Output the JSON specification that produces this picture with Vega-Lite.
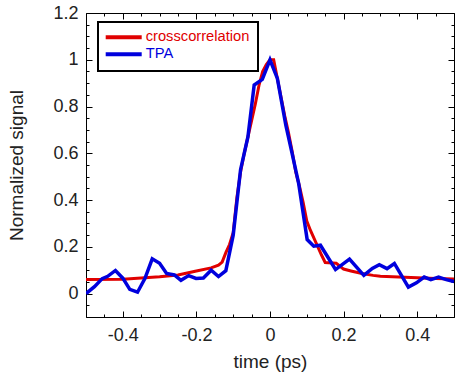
{
  "$schema": "https://vega.github.io/schema/vega-lite/v6.json",
  "autosize": "none",
  "width": 368,
  "height": 304,
  "padding": {"left": 86, "top": 13, "right": 1, "bottom": 58},
  "config": {
    "view": {"stroke": "black", "strokeWidth": 1},
    "axis": {
      "grid": false,
      "domain": false,
      "tickColor": "black",
      "tickWidth": 1,
      "labelFont": "Liberation Sans",
      "labelFontSize": 18,
      "labelColor": "#222222",
      "titleFont": "Liberation Sans",
      "titleFontSize": 19,
      "titleFontWeight": "normal",
      "titleColor": "#222222"
    },
    "legend": {
      "labelFont": "Liberation Sans"
    }
  },
  "resolve": {"axis": {"x": "independent", "y": "independent"}},
  "layer": [
    {
      "data": {"values": [
        {"t": -0.5, "s": 0.060, "series": "crosscorrelation"},
        {"t": -0.4, "s": 0.061, "series": "crosscorrelation"},
        {"t": -0.3, "s": 0.072, "series": "crosscorrelation"},
        {"t": -0.25, "s": 0.080, "series": "crosscorrelation"},
        {"t": -0.2, "s": 0.097, "series": "crosscorrelation"},
        {"t": -0.16, "s": 0.110, "series": "crosscorrelation"},
        {"t": -0.14, "s": 0.122, "series": "crosscorrelation"},
        {"t": -0.13, "s": 0.135, "series": "crosscorrelation"},
        {"t": -0.12, "s": 0.175, "series": "crosscorrelation"},
        {"t": -0.11, "s": 0.21, "series": "crosscorrelation"},
        {"t": -0.10, "s": 0.26, "series": "crosscorrelation"},
        {"t": -0.09, "s": 0.41, "series": "crosscorrelation"},
        {"t": -0.08, "s": 0.52, "series": "crosscorrelation"},
        {"t": -0.07, "s": 0.60, "series": "crosscorrelation"},
        {"t": -0.06, "s": 0.67, "series": "crosscorrelation"},
        {"t": -0.05, "s": 0.74, "series": "crosscorrelation"},
        {"t": -0.04, "s": 0.81, "series": "crosscorrelation"},
        {"t": -0.03, "s": 0.89, "series": "crosscorrelation"},
        {"t": -0.02, "s": 0.95, "series": "crosscorrelation"},
        {"t": -0.01, "s": 0.98, "series": "crosscorrelation"},
        {"t": 0.0, "s": 1.0, "series": "crosscorrelation"},
        {"t": 0.01, "s": 1.0, "series": "crosscorrelation"},
        {"t": 0.02, "s": 0.92, "series": "crosscorrelation"},
        {"t": 0.03, "s": 0.84, "series": "crosscorrelation"},
        {"t": 0.04, "s": 0.76, "series": "crosscorrelation"},
        {"t": 0.05, "s": 0.69, "series": "crosscorrelation"},
        {"t": 0.06, "s": 0.61, "series": "crosscorrelation"},
        {"t": 0.07, "s": 0.52, "series": "crosscorrelation"},
        {"t": 0.08, "s": 0.46, "series": "crosscorrelation"},
        {"t": 0.09, "s": 0.39, "series": "crosscorrelation"},
        {"t": 0.10, "s": 0.31, "series": "crosscorrelation"},
        {"t": 0.11, "s": 0.27, "series": "crosscorrelation"},
        {"t": 0.12, "s": 0.235, "series": "crosscorrelation"},
        {"t": 0.13, "s": 0.20, "series": "crosscorrelation"},
        {"t": 0.14, "s": 0.165, "series": "crosscorrelation"},
        {"t": 0.15, "s": 0.133, "series": "crosscorrelation"},
        {"t": 0.18, "s": 0.13, "series": "crosscorrelation"},
        {"t": 0.2, "s": 0.105, "series": "crosscorrelation"},
        {"t": 0.22, "s": 0.097, "series": "crosscorrelation"},
        {"t": 0.25, "s": 0.086, "series": "crosscorrelation"},
        {"t": 0.28, "s": 0.078, "series": "crosscorrelation"},
        {"t": 0.3, "s": 0.074, "series": "crosscorrelation"},
        {"t": 0.35, "s": 0.071, "series": "crosscorrelation"},
        {"t": 0.4, "s": 0.068, "series": "crosscorrelation"},
        {"t": 0.45, "s": 0.065, "series": "crosscorrelation"},
        {"t": 0.5, "s": 0.062, "series": "crosscorrelation"}
      ]},
      "mark": {"type": "line", "strokeWidth": 3, "clip": true},
      "encoding": {
        "x": {
          "field": "t", "type": "quantitative",
          "scale": {"domain": [-0.5, 0.5], "nice": false, "zero": false},
          "axis": {
            "orient": "bottom",
            "title": "time (ps)",
            "values": [-0.5,-0.45,-0.4,-0.35,-0.3,-0.25,-0.2,-0.15,-0.1,-0.05,0,0.05,0.1,0.15,0.2,0.25,0.3,0.35,0.4,0.45,0.5],
            "tickSize": {"condition": {"test": "abs(round(datum.value*20) % 4) == 0", "value": -6}, "value": -3},
            "labelExpr": "abs(round(datum.value*20) % 4) == 0 ? ((datum.value < 0 ? '-' : '') + format(abs(datum.value), '~g')) : ''",
            "labelPadding": 15,
            "titlePadding": 8
          }
        },
        "y": {
          "field": "s", "type": "quantitative",
          "scale": {"domain": [-0.1, 1.2], "nice": false, "zero": false},
          "axis": {
            "orient": "left",
            "title": "Normalized signal",
            "values": [-0.1,-0.05,0,0.05,0.1,0.15,0.2,0.25,0.3,0.35,0.4,0.45,0.5,0.55,0.6,0.65,0.7,0.75,0.8,0.85,0.9,0.95,1,1.05,1.1,1.15,1.2],
            "tickSize": {"condition": {"test": "abs(round(datum.value*20) % 4) == 0", "value": -6}, "value": -3},
            "labelExpr": "abs(round(datum.value*20) % 4) == 0 ? ((datum.value < 0 ? '-' : '') + format(abs(datum.value), '~g')) : ''",
            "labelPadding": 14,
            "titlePadding": 26
          }
        },
        "color": {
          "field": "series", "type": "nominal",
          "scale": {"domain": ["crosscorrelation", "TPA"], "range": ["#e00000", "#0000dd"]},
          "legend": {
            "orient": "none",
            "legendX": 12,
            "legendY": 9,
            "title": null,
            "fillColor": "white",
            "strokeColor": "black",
            "padding": 8,
            "symbolType": "M-1.7,0H6.3",
            "symbolSize": 81,
            "symbolStrokeWidth": 4,
            "labelFontSize": 14.7,
            "labelOffset": 25,
            "rowPadding": 0,
            "encode": {
              "labels": {"update": {"fill": {"signal": "datum.label == 'TPA' ? '#0000dd' : '#e00000'"}}},
              "legend": {"update": {"strokeWidth": {"value": 2}}}
            }
          }
        }
      }
    },
    {
      "data": {"values": [
        {"t": -0.5, "s": 0.0, "series": "TPA"},
        {"t": -0.477, "s": 0.03, "series": "TPA"},
        {"t": -0.456, "s": 0.064, "series": "TPA"},
        {"t": -0.441, "s": 0.074, "series": "TPA"},
        {"t": -0.42, "s": 0.099, "series": "TPA"},
        {"t": -0.4, "s": 0.066, "series": "TPA"},
        {"t": -0.381, "s": 0.018, "series": "TPA"},
        {"t": -0.36, "s": 0.006, "series": "TPA"},
        {"t": -0.34, "s": 0.064, "series": "TPA"},
        {"t": -0.32, "s": 0.149, "series": "TPA"},
        {"t": -0.30, "s": 0.13, "series": "TPA"},
        {"t": -0.281, "s": 0.086, "series": "TPA"},
        {"t": -0.26, "s": 0.08, "series": "TPA"},
        {"t": -0.242, "s": 0.057, "series": "TPA"},
        {"t": -0.221, "s": 0.077, "series": "TPA"},
        {"t": -0.201, "s": 0.065, "series": "TPA"},
        {"t": -0.181, "s": 0.067, "series": "TPA"},
        {"t": -0.16, "s": 0.10, "series": "TPA"},
        {"t": -0.14, "s": 0.073, "series": "TPA"},
        {"t": -0.12, "s": 0.098, "series": "TPA"},
        {"t": -0.10, "s": 0.25, "series": "TPA"},
        {"t": -0.08, "s": 0.53, "series": "TPA"},
        {"t": -0.06, "s": 0.67, "series": "TPA"},
        {"t": -0.043, "s": 0.892, "series": "TPA"},
        {"t": -0.021, "s": 0.916, "series": "TPA"},
        {"t": 0.0, "s": 1.0, "series": "TPA"},
        {"t": 0.02, "s": 0.92, "series": "TPA"},
        {"t": 0.043, "s": 0.72, "series": "TPA"},
        {"t": 0.06, "s": 0.60, "series": "TPA"},
        {"t": 0.078, "s": 0.47, "series": "TPA"},
        {"t": 0.101, "s": 0.231, "series": "TPA"},
        {"t": 0.119, "s": 0.203, "series": "TPA"},
        {"t": 0.137, "s": 0.207, "series": "TPA"},
        {"t": 0.178, "s": 0.103, "series": "TPA"},
        {"t": 0.216, "s": 0.148, "series": "TPA"},
        {"t": 0.255, "s": 0.078, "series": "TPA"},
        {"t": 0.278, "s": 0.108, "series": "TPA"},
        {"t": 0.297, "s": 0.124, "series": "TPA"},
        {"t": 0.318, "s": 0.107, "series": "TPA"},
        {"t": 0.338, "s": 0.129, "series": "TPA"},
        {"t": 0.376, "s": 0.028, "series": "TPA"},
        {"t": 0.398, "s": 0.046, "series": "TPA"},
        {"t": 0.419, "s": 0.071, "series": "TPA"},
        {"t": 0.437, "s": 0.06, "series": "TPA"},
        {"t": 0.458, "s": 0.071, "series": "TPA"},
        {"t": 0.479, "s": 0.06, "series": "TPA"},
        {"t": 0.5, "s": 0.052, "series": "TPA"}
      ]},
      "mark": {"type": "line", "strokeWidth": 3.5, "clip": true},
      "encoding": {
        "x": {
          "field": "t", "type": "quantitative",
          "axis": {
            "orient": "top",
            "title": null,
            "labels": false,
            "values": [-0.5,-0.45,-0.4,-0.35,-0.3,-0.25,-0.2,-0.15,-0.1,-0.05,0,0.05,0.1,0.15,0.2,0.25,0.3,0.35,0.4,0.45,0.5],
            "tickSize": {"condition": {"test": "abs(round(datum.value*20) % 4) == 0", "value": -6}, "value": -3}
          }
        },
        "y": {
          "field": "s", "type": "quantitative",
          "axis": {
            "orient": "right",
            "title": null,
            "labels": false,
            "values": [-0.1,-0.05,0,0.05,0.1,0.15,0.2,0.25,0.3,0.35,0.4,0.45,0.5,0.55,0.6,0.65,0.7,0.75,0.8,0.85,0.9,0.95,1,1.05,1.1,1.15,1.2],
            "tickSize": {"condition": {"test": "abs(round(datum.value*20) % 4) == 0", "value": -6}, "value": -3}
          }
        },
        "color": {"field": "series", "type": "nominal"}
      }
    }
  ]
}
